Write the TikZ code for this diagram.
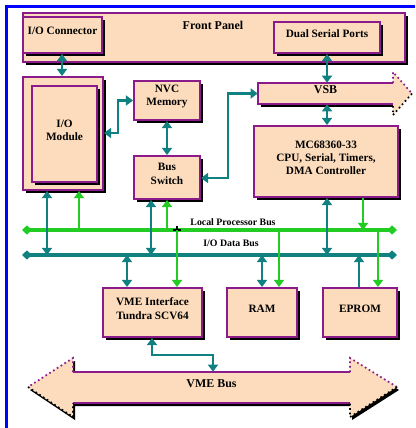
\documentclass[tikz,border=0pt]{standalone}
\usepackage{fontspec}
\setmainfont{Liberation Serif}
\usetikzlibrary{arrows.meta, shadows, fit}

\definecolor{peach}{HTML}{FCDCBC}
\definecolor{boxpurple}{HTML}{8B1A8B}
\definecolor{busteal}{HTML}{108080}
\definecolor{busgreen}{HTML}{22CC22}
\definecolor{frameblue}{HTML}{0000FF}

\tikzset{
  blk/.style={draw=boxpurple, line width=1.4pt, fill=peach, inner sep=0pt,
    drop shadow={shadow xshift=2.4pt, shadow yshift=-2.4pt, fill=black, opacity=1},
    font=\fontsize{8}{9.5}\selectfont\bfseries, align=center},
  txt/.style={font=\fontsize{8.5}{10}\selectfont\bfseries, align=center},
  buslbl/.style={font=\fontsize{7}{8}\selectfont\bfseries},
  tip/.tip={Triangle[width=7pt,length=5pt]},
  tl/.style={draw=busteal, line width=2pt, tip-tip},
  tup/.style={draw=busteal, line width=2pt, -tip},
  gup/.style={draw=busgreen, line width=2pt, -tip},
  gdn/.style={draw=busgreen, line width=2pt, -tip},
  bus/.style={line width=2.2pt, {Diamond[width=6.5pt,length=7pt]}-{Diamond[width=6.5pt,length=7pt]}}
}

\begin{document}
\begin{tikzpicture}[x=0.025cm,y=-0.025cm]
  \useasboundingbox (0,0) rectangle (415,428);
  \fill[white] (0,0) rectangle (415,428);
  % frame
  \draw[frameblue, line width=2.2pt] (6.5,428) -- (6.5,6.5) -- (415,6.5);

  % front panel with its two parts
  \node[blk, fit={(23,13) (405,62)}] (panel) {};
  \node[txt] (panellbl) at (213,25) {Front Panel};
  \node[blk, fit={(23,17) (102,53)}] (ioc) {I/O Connector};
  \node[blk, fit={(274,22) (380,53)}] (dsp) {Dual Serial Ports};

  % boxes
  \node[blk, fit={(23,77) (103,190)}] (iomback) {};
  \node[blk, fit={(32,86) (97,182)}] (iom) {I/O\\Module};
  \node[blk, fit={(134,81) (200,120)}] (nvc) {NVC\\Memory};
  \node[blk, fit={(134,156) (200,199)}] (bsw) {Bus\\Switch};
  \node[blk, fit={(254,126) (398,197)}] (cpu) {MC68360-33\\CPU, Serial, Timers,\\DMA Controller};
  \node[blk, fit={(103,288) (202,337)}] (vmei) {VME Interface\\Tundra SCV64};
  \node[blk, fit={(227,288) (297,337)}] (ram) {RAM};
  \node[blk, fit={(323,288) (397,337)}] (eprom) {EPROM};

  % VSB arrow
  \fill[black] (261,86) rectangle (396,107);
  \fill[peach] (258,83) -- (393,83) -- (393,72) -- (412,93.5) -- (393,115)
    -- (393,104) -- (258,104) -- cycle;
  \draw[boxpurple, line width=1.4pt] (393,83) -- (258,83) -- (258,104) -- (393,104);
  \draw[boxpurple, line width=1.2pt, dotted] (393,83) -- (393,72) -- (412,93.5);
  \draw[black, line width=1.2pt, dotted] (412,93.5) -- (393,115) -- (393,104);
  \node[txt, fit={(258,83) (393,104)}, inner sep=0pt] (vsb) {VSB};

  % VME bus arrow
  \fill[black] (75,375) -- (352,375) -- (352,361) -- (399,390) -- (352,420)
    -- (352,406) -- (75,406) -- (75,420) -- (30,390) -- (75,361) -- cycle;
  \fill[peach] (73,372) -- (350,372) -- (350,358) -- (397,387) -- (350,417)
    -- (350,403) -- (73,403) -- (73,417) -- (28,387) -- (73,358) -- cycle;
  \draw[boxpurple, line width=1.4pt] (73,372) -- (350,372) (73,403) -- (350,403);
  \draw[boxpurple, line width=1.2pt, dotted] (350,372) -- (350,358) -- (397,387)
    (73,372) -- (73,358) -- (28,387);
  \draw[black, line width=1.2pt, dotted] (397,387) -- (350,417) -- (350,403)
    (28,387) -- (73,417) -- (73,403);
  \node[txt, fit={(73,372) (350,403)}, inner sep=0pt] (vmebus) {VME Bus};

  % buses
  \coordinate (lpbW) at (22,230); \coordinate (lpbE) at (397,230);
  \coordinate (mpbW) at (22,255); \coordinate (mpbE) at (397,255);
  \draw[bus, busgreen] (lpbW) -- (lpbE);
  \draw[bus, busteal] (mpbW) -- (mpbE);
  \node[buslbl] (lpblbl) at (233,222) {Local Processor Bus};
  \node[buslbl] (mpblbl) at (231,243) {I/O Data Bus};
  \draw[line width=0.8pt] (173,230) -- (181,230) (177,226) -- (177,234);

  % links between boxes
  \draw[tl] (ioc.south -| 62,0) -- (iomback.north -| 62,0);
  \draw[tl] (iomback.east |- 0,133) -- (118,133) |- (nvc.west);
  \draw[tl] (nvc.south) -- (bsw.north);
  \draw[tl] (bsw.east |- 0,178) -- (228,178) |- (vsb.west);
  \draw[tl] (dsp.south -| 327,0) -- (vsb.north -| 327,0);
  \draw[tl] (vsb.south -| 327,0) -- (cpu.north -| 327,0);
  \draw[tl] (vmei.south -| 152,0) -- (152,355) -| (213,0 |- vmebus.north);

  % bus taps
  \draw[tl] (iomback.south -| 47,0) -- (47,0 |- mpbW);
  \draw[gup] (79,0 |- lpbW) -- (iomback.south -| 79,0);
  \draw[tl] (bsw.south -| 151,0) -- (151,0 |- mpbW);
  \draw[gup] (167,0 |- lpbW) -- (bsw.south -| 167,0);
  \draw[tl] (cpu.south -| 327,0) -- (327,0 |- mpbW);
  \draw[gdn] (cpu.south -| 363,0) -- (363,0 |- lpbW);
  \draw[gdn] (177,0 |- lpbW) -- (vmei.north -| 177,0);
  \draw[gdn] (279,0 |- lpbW) -- (ram.north -| 279,0);
  \draw[gdn] (378,0 |- lpbW) -- (eprom.north -| 378,0);
  \draw[tl] (127,0 |- mpbW) -- (vmei.north -| 127,0);
  \draw[tl] (262,0 |- mpbW) -- (ram.north -| 262,0);
  \draw[tup] (eprom.north -| 359,0) -- (359,0 |- mpbW);
\end{tikzpicture}
\end{document}
